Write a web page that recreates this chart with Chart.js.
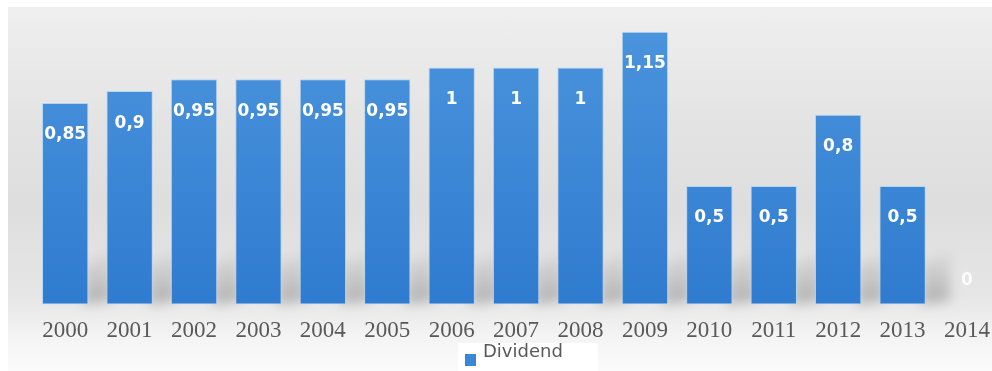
<!DOCTYPE html>
<html>
<head>
<meta charset="utf-8">
<script src="https://cdn.jsdelivr.net/npm/chart.js@4"></script>
<style>
  html, body { margin: 0; padding: 0; background: #fff; overflow: hidden; }
  #wrap {
    position: absolute; left: 8px; top: 7px; width: 995px; height: 364px;
    background: linear-gradient(to bottom, #efefef 0px, #e3e3e3 120px, #dedede 200px, #e6e6e6 290px, #f4f4f4 330px, #fbfbfb 364px);
  }
  #outer { position: absolute; left: 0; top: 0; width: 1003px; height: 371px; }
</style>
</head>
<body>
<div id="wrap"></div>
<div id="outer"><canvas id="canvas" width="1003" height="371"></canvas></div>
<script>
const years     = ['2000','2001','2002','2003','2004','2005','2006','2007','2008','2009','2010','2011','2012','2013','2014'];
const dividends = [0.85, 0.9, 0.95, 0.95, 0.95, 0.95, 1, 1, 1, 1.15, 0.5, 0.5, 0.8, 0.5, 0];
const seriesName = 'Dividend';

(function() {

	// grey shadow falling right of each bar
	var shadowPlugin = {
		id: 'barShadow',
		beforeDatasetsDraw: function(chart) {
			var ctx = chart.ctx;
			var meta = chart.getDatasetMeta(0);
			ctx.save();
			ctx.filter = 'blur(6px)';
			meta.data.forEach(function(bar, i) {
				if (!dividends[i]) return;
				var r = bar.x + bar.width / 2;
				var b = bar.base;
				var g = ctx.createLinearGradient(0, b - 60, 0, b);
				g.addColorStop(0, 'rgba(120,120,120,0)');
				g.addColorStop(1, 'rgba(110,110,110,0.45)');
				ctx.fillStyle = g;
				ctx.beginPath();
				ctx.moveTo(r - 4, b);
				ctx.lineTo(r - 4, b - 40);
				ctx.lineTo(r + 24, b - 55);
				ctx.lineTo(r + 24, b - 4);
				ctx.closePath();
				ctx.fill();
			});
			ctx.restore();
		}
	};

	var valueLabels = {
		id: 'valueLabels',
		afterDatasetsDraw: function(chart) {
			var ctx = chart.ctx;
			var meta = chart.getDatasetMeta(0);
			ctx.save();
			ctx.font = 'bold 17px "DejaVu Sans"';
			ctx.textAlign = 'center';
			ctx.textBaseline = 'middle';
			meta.data.forEach(function(bar, i) {
				var v = dividends[i];
				var txt = String(v).replace('.', ',');
				var y = v ? bar.y + 32 : bar.base - 24;
				ctx.fillStyle = v ? '#ffffff' : 'rgba(255,255,255,0.85)';
				ctx.fillText(txt, bar.x, y);
			});
			ctx.restore();
		}
	};

	// legend below the axis, drawn by hand on a white patch
	var legendBox = {
		id: 'legendBox',
		afterDraw: function(chart) {
			var ctx = chart.ctx;
			ctx.save();
			ctx.fillStyle = '#ffffff';
			ctx.fillRect(458, 343, 140, 28);
			ctx.fillStyle = '#3a87d6';
			ctx.fillRect(465, 354, 11, 12);
			ctx.fillStyle = '#595959';
			ctx.font = '18px "DejaVu Sans"';
			ctx.textAlign = 'left';
			ctx.textBaseline = 'middle';
			ctx.fillText(seriesName, 483, 352);
			ctx.restore();
		}
	};

	var ctx = document.getElementById('canvas').getContext('2d');
	window.myBar = new Chart(ctx, {
		type: 'bar',
		data: {
			labels: years,
			datasets: [{
				label: seriesName,
				data: dividends,
				backgroundColor: function(c) {
					var area = c.chart.chartArea;
					if (!area) return '#3a87d6';
					var g = c.chart.ctx.createLinearGradient(0, area.top, 0, area.bottom);
					g.addColorStop(0, '#4b94dd');
					g.addColorStop(1, '#2f7bcf');
					return g;
				},
				borderColor: 'rgba(170,210,245,0.8)',
				borderWidth: 1,
				borderSkipped: false,
				categoryPercentage: 1,
				barPercentage: 0.72
			}]
		},
		options: {
			responsive: false,
			animation: false,
			layout: { padding: { left: 33, right: 0, top: 20, bottom: 13 } },
			scales: {
				x: {
					grid: { display: false, drawTicks: false },
					border: { display: false },
					ticks: {
						color: '#595959',
						font: { family: '"Liberation Serif"', size: 23 },
						padding: 13,
						maxRotation: 0
					}
				},
				y: {
					display: false,
					min: 0,
					max: 1.2
				}
			},
			plugins: {
				legend: { display: false },
				tooltip: { enabled: false }
			}
		},
		plugins: [shadowPlugin, valueLabels, legendBox]
	});
})();
</script>
</body>
</html>
